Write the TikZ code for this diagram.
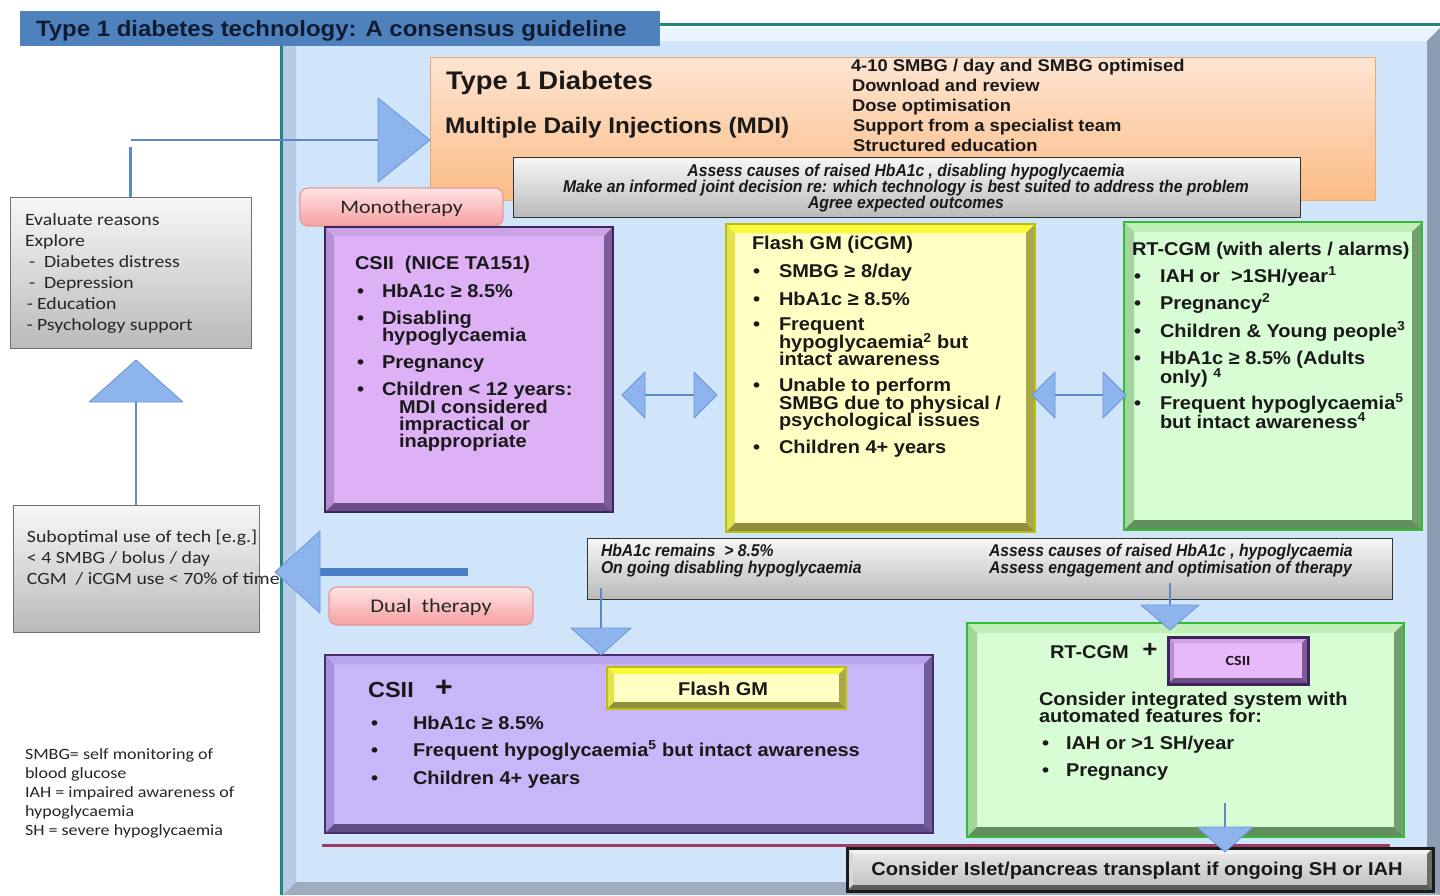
\documentclass[tikz,border=0pt]{standalone}
\usepackage{fontspec}
\setmainfont{Liberation Sans}[FakeStretch=1.08]
\newfontfamily\narrowf{Liberation Sans}[FakeStretch=0.92]
\newfontfamily\calibri{Carlito}[FakeStretch=1.15]
\newcommand{\fsz}[1]{\fontsize{#1pt}{#1pt}\selectfont}
\newcounter{tn}
\newcommand{\TX}[4][]{\stepcounter{tn}\node[txt,#1] (t\arabic{tn}) at (#2,#3) {#4};}
\newcommand{\BL}[5][]{\TX[#1]{#2}{#4}{•}\TX[#1]{#3}{#4}{#5}}
\newcommand{\BX}[6][]{\node[box,minimum width={#5-#3},minimum height={#6-#4},#1] (#2) at (#3,#4) {};}
\newcommand{\bev}[7]{%
 \fill[#3] (#1.north west) -- (#1.north east) -- ([shift={(-#2,#2)}]#1.north east) -- ([shift={(#2,#2)}]#1.north west) -- cycle;
 \fill[#4] (#1.north west) -- ([shift={(#2,#2)}]#1.north west) -- ([shift={(#2,-#2)}]#1.south west) -- (#1.south west) -- cycle;
 \fill[#5] (#1.north east) -- ([shift={(-#2,#2)}]#1.north east) -- ([shift={(-#2,-#2)}]#1.south east) -- (#1.south east) -- cycle;
 \fill[#6] (#1.south west) -- ([shift={(#2,-#2)}]#1.south west) -- ([shift={(-#2,-#2)}]#1.south east) -- (#1.south east) -- cycle;
 \draw[#7] (#1.north west) rectangle (#1.south east);}
\newcommand{\headR}[3]{\filldraw[head] (#1) -- ++(-#2,-#3) -- ++(0,2*#3) -- cycle;}
\newcommand{\headL}[3]{\filldraw[head] (#1) -- ++(#2,-#3) -- ++(0,2*#3) -- cycle;}
\newcommand{\headD}[3]{\filldraw[head] (#1) -- ++(-#3,-#2) -- ++(2*#3,0) -- cycle;}
\newcommand{\headU}[3]{\filldraw[head] (#1) -- ++(-#3,#2) -- ++(2*#3,0) -- cycle;}
\definecolor{panelC}{HTML}{D1E5FA}
\definecolor{panelT}{HTML}{E8F5FC}
\definecolor{panelL}{HTML}{B6CBE5}
\definecolor{panelR}{HTML}{8C9DB2}
\definecolor{panelB}{HTML}{9DADBF}
\definecolor{tealC}{HTML}{1E8784}
\definecolor{titleC}{HTML}{4F81BD}
\definecolor{titleT}{HTML}{0E1B33}
\definecolor{mdiT}{HTML}{FDE5D2}
\definecolor{mdiB}{HTML}{FBBC86}
\definecolor{mdiD}{HTML}{EFA86E}
\definecolor{gT}{HTML}{F7F7F7}
\definecolor{gB}{HTML}{BABABA}
\definecolor{gD}{HTML}{333333}
\definecolor{pinkT}{HTML}{FFE4E4}
\definecolor{pinkB}{HTML}{F6A0A0}
\definecolor{pinkD}{HTML}{E39A9A}
\definecolor{csiiF}{HTML}{DEB1F7}
\definecolor{csiiTop}{HTML}{CDA3E8}
\definecolor{csiiL}{HTML}{B58FD1}
\definecolor{csiiR}{HTML}{7C5B9B}
\definecolor{csiiBo}{HTML}{6B4D88}
\definecolor{csiiD}{HTML}{3E2459}
\definecolor{flashF}{HTML}{FFFFC4}
\definecolor{flashTop}{HTML}{FAFA3C}
\definecolor{flashL}{HTML}{E3E350}
\definecolor{flashR}{HTML}{A8A848}
\definecolor{flashBo}{HTML}{8F8F3C}
\definecolor{flashD}{HTML}{BDBD10}
\definecolor{rtF}{HTML}{D8FCD4}
\definecolor{rtTop}{HTML}{C0EFB9}
\definecolor{rtL}{HTML}{A2D59C}
\definecolor{rtR}{HTML}{72A06D}
\definecolor{rtBo}{HTML}{62905D}
\definecolor{rtD}{HTML}{33BB33}
\definecolor{dualF}{HTML}{C7B7F8}
\definecolor{dualTop}{HTML}{B7A5EE}
\definecolor{dualL}{HTML}{A691DE}
\definecolor{dualR}{HTML}{6F5C95}
\definecolor{dualBo}{HTML}{614D86}
\definecolor{dualD}{HTML}{4A2B6B}
\definecolor{cinF}{HTML}{E8B9FA}
\definecolor{headF}{HTML}{8EB4EE}
\definecolor{headD}{HTML}{6A95D5}
\definecolor{connC}{HTML}{5C88C7}
\definecolor{barC}{HTML}{4A7EC6}
\definecolor{maroonC}{HTML}{9C3B64}
\definecolor{trT}{HTML}{EAEAEA}
\definecolor{trB}{HTML}{BEBEBE}
\definecolor{trTop}{HTML}{F2F2F2}
\definecolor{trL}{HTML}{D6D6D6}
\definecolor{trR}{HTML}{6A6A6A}
\definecolor{trBo}{HTML}{5A5A5A}
\definecolor{trD}{HTML}{1A1A1A}
\begin{document}
\begin{tikzpicture}[x=1pt,y=-1pt,
  txt/.style={inner sep=0pt,outer sep=0pt,anchor=base west,font=\bfseries\fsz{18.5},text=black!90},
  box/.style={inner sep=0pt,outer sep=0pt,anchor=north west},
  conn/.style={draw=connC,line width=1.4pt},
  head/.style={fill=headF,draw=headD,line width=0.8pt,line join=round},
  cal/.style={font=\calibri\fsz{17.2},text=black!85},
  ital/.style={font=\narrowf\bfseries\itshape\fsz{17.1}},
  grey/.style={top color=gT,bottom color=gB,draw=gD,line width=1pt},
  pill/.style={rounded corners=8pt,top color=pinkT,bottom color=pinkB,draw=pinkD,line width=1.2pt}]

\useasboundingbox (0,0) rectangle (1440,895);
\fill[white] (0,0) rectangle (1440,895);

% panel
\BX[fill=panelC]{panel}{283}{28}{1440}{895}
\bev{panel}{13}{panelT}{panelL}{panelR}{panelB}{draw=none}
\draw[tealC,line width=3pt] (281,45) -- (281,895);

% title
\BX[fill=titleC]{title}{20}{11}{660}{46}
\draw[tealC,line width=3pt] (660,24) -- (1440,24);
\TX[font=\bfseries\fsz{22.2},text=titleT]{36}{36.5}{Type 1 diabetes technology: A consensus guideline}

% MDI
\BX[top color=mdiT,bottom color=mdiB,draw=mdiD,line width=1pt]{mdi}{430}{57}{1375}{200}
\TX[font=\bfseries\fsz{25.4}]{446}{89}{Type 1 Diabetes}
\TX[font=\bfseries\fsz{22.5}]{445}{133}{Multiple Daily Injections (MDI)}
\TX[font=\bfseries\fsz{17}]{851}{71}{4-10 SMBG / day and SMBG optimised}
\TX[font=\bfseries\fsz{17}]{852}{91}{Download and review}
\TX[font=\bfseries\fsz{17}]{852}{111}{Dose optimisation}
\TX[font=\bfseries\fsz{17}]{853}{131}{Support from a specialist team}
\TX[font=\bfseries\fsz{17}]{853}{151}{Structured education}

% assess box
\BX[grey]{assess}{513}{157}{1300}{217}
\TX[ital,anchor=base]{906}{176}{Assess causes of raised HbA1c , disabling hypoglycaemia}
\TX[ital,anchor=base]{906}{192}{Make an informed joint decision re: which technology is best suited to address the problem}
\TX[ital,anchor=base]{906}{208}{Agree expected outcomes}

% monotherapy
\BX[pill]{mono}{300}{188}{503}{226}
\TX[font=\calibri\fsz{19.1},text=black!85,anchor=base]{401.5}{213}{Monotherapy}

% evaluate
\BX[grey,draw=gD!70]{eval}{10}{197}{251}{348}
\TX[cal]{25}{225}{Evaluate reasons}
\TX[cal]{25}{246.5}{Explore}
\TX[cal]{29}{267.5}{-\kern9pt Diabetes distress}
\TX[cal]{29}{288}{-\kern9pt Depression}
\TX[cal]{27}{309}{-\kern4pt Education}
\TX[cal]{27}{330}{-\kern4pt Psychology support}

% connector evaluate -> MDI
\coordinate (mdiin) at (378,140);
\draw[conn,line width=3pt] (eval.north) -- ++(0,-50);
\draw[conn] (eval.north |- mdiin) -- (mdiin);
\headR{mdi.west |- mdiin}{52}{42}

% suboptimal
\BX[grey,draw=gD!70]{sub}{13}{505}{259}{632}
\coordinate (uptip) at (135,360);
\draw[conn,line width=1.2pt] (sub.north) -- (sub.north |- uptip);
\headU{sub.north |- uptip}{42}{47}

% big left arrow
\coordinate (lbar) at (468,572);
\coordinate (ltip) at (275,572);
\draw[barC,line width=8pt] (lbar) -- ([shift={(44,0)}]ltip);
\headL{ltip}{45}{41}
\TX[cal]{27}{542}{Suboptimal use of tech [e.g.]}
\TX[cal]{27}{563}{< 4 SMBG / bolus / day}
\TX[cal]{27}{584}{CGM\ \ / iCGM use < 70\% of time}

% dual therapy pill
\BX[pill]{dual}{329}{587}{533}{625}
\TX[font=\calibri\fsz{19.4},text=black!85,anchor=base]{431}{612}{Dual\ \ therapy}

% CSII
\BX[fill=csiiF]{csii}{325}{227}{613}{512}
\bev{csii}{9}{csiiTop}{csiiL}{csiiR}{csiiBo}{draw=csiiD,line width=2.5pt}
\TX{355}{269}{CSII\ \ (NICE TA151)}
\BL{357}{382}{297}{HbA1c ≥ 8.5\%}
\BL{357}{382}{324}{Disabling}
\TX{382}{341.5}{hypoglycaemia}
\BL{357}{382}{368}{Pregnancy}
\BL{357}{382}{395.5}{Children < 12 years:}
\TX{399}{413}{MDI considered}
\TX{399}{430}{impractical or}
\TX{399}{447}{inappropriate}

% Flash
\BX[fill=flashF]{flash}{726}{224}{1035}{532}
\bev{flash}{9}{flashTop}{flashL}{flashR}{flashBo}{draw=flashD,line width=2pt}
\TX{752}{249}{Flash GM (iCGM)}
\BL{753}{779}{277}{SMBG ≥ 8/day}
\BL{753}{779}{305}{HbA1c ≥ 8.5\%}
\BL{753}{779}{330}{Frequent}
\TX{779}{348.5}{hypoglycaemia\textsuperscript{2} but}
\TX{779}{365}{intact awareness}
\BL{753}{779}{391.5}{Unable to perform}
\TX{779}{409}{SMBG due to physical /}
\TX{779}{426}{psychological issues}
\BL{753}{779}{453}{Children 4+ years}

% RT-CGM
\BX[fill=rtF]{rt}{1124}{222}{1422}{530}
\bev{rt}{10}{rtTop}{rtL}{rtR}{rtBo}{draw=rtD,line width=2.5pt}
\TX{1132}{255}{RT-CGM (with alerts / alarms)}
\BL{1134}{1160}{282}{IAH or\ \ >1SH/year\textsuperscript{1}}
\BL{1134}{1160}{309}{Pregnancy\textsuperscript{2}}
\BL{1134}{1160}{337}{Children \& Young people\textsuperscript{3}}
\BL{1134}{1160}{364}{HbA1c ≥ 8.5\% (Adults}
\TX{1160}{383.5}{only) \textsuperscript{4}}
\BL{1134}{1160}{409}{Frequent hypoglycaemia\textsuperscript{5}}
\TX{1160}{428}{but intact awareness\textsuperscript{4}}

% double arrows
\coordinate (a1l) at (622,395);
\coordinate (a1r) at (717,395);
\draw[conn] (a1l) -- (a1r);
\headL{a1l}{23}{23}
\headR{a1r}{23}{23}
\coordinate (a2l) at (1032,395);
\coordinate (a2r) at (1126,395);
\draw[conn] (a2l) -- (a2r);
\headL{a2l}{23}{23}
\headR{a2r}{23}{23}

% condition box
\BX[grey]{cond}{587}{538}{1392}{599}
\TX[ital]{601}{556}{HbA1c remains\ \ > 8.5\%}
\TX[ital]{601}{573}{On going disabling hypoglycaemia}
\TX[ital]{989}{556}{Assess causes of raised HbA1c , hypoglycaemia}
\TX[ital]{989}{573}{Assess engagement and optimisation of therapy}

% dual therapy box
\BX[fill=dualF]{dbox}{325}{655}{933}{833}
\bev{dbox}{9}{dualTop}{dualL}{dualR}{dualBo}{draw=dualD,line width=2.5pt}
\TX[font=\bfseries\fsz{21.8}]{368}{697}{CSII}
\node[txt,anchor=center,font=\bfseries\fsz{28}] (plus1) at (444,688) {+};
\BX[fill=flashF]{fin}{607}{667}{846}{709}
\bev{fin}{7}{flashTop}{flashL}{flashR}{flashBo}{draw=flashD,line width=1.5pt}
\TX[anchor=base]{723}{695}{Flash GM}
\BL{371}{413}{729}{HbA1c ≥ 8.5\%}
\BL{371}{413}{756}{Frequent hypoglycaemia\textsuperscript{5} but intact awareness}
\BL{371}{413}{784}{Children 4+ years}

\coordinate (d1) at (601,655);
\draw[conn,line width=1.2pt] ([shift={(14,-11)}]cond.south west) -- ([shift={(0,-27)}]d1);
\headD{d1}{27}{30}

% RT-CGM + CSII box
\BX[fill=rtF]{g2}{967}{623}{1404}{837}
\bev{g2}{10}{rtTop}{rtL}{rtR}{rtBo}{draw=rtD,line width=2.5pt}
\TX{1050}{658}{RT-CGM}
\node[txt,anchor=center,font=\bfseries\fsz{24}] (plus2) at (1150,650) {+};
\BX[fill=cinF]{cin}{1168}{637}{1308}{684}
\bev{cin}{6}{csiiTop}{csiiL}{csiiR}{csiiBo}{draw=csiiD,line width=3pt}
\TX[font=\calibri\bfseries\fsz{14},anchor=base]{1238}{665}{CSII}
\TX{1039}{705}{Consider integrated system with}
\TX{1039}{722.5}{automated features for:}
\BL{1042}{1066}{749}{IAH or >1 SH/year}
\BL{1042}{1066}{776}{Pregnancy}

\coordinate (d2) at (1170,630);
\draw[conn,line width=1.2pt] ([shift={(-222,-16)}]cond.south east) -- ([shift={(0,-25)}]d2);
\headD{d2}{25}{29}

% maroon rule
\draw[maroonC,line width=3pt] (322,845) -- (1390,845);

% transplant
\BX[top color=trT,bottom color=trB]{trans}{847}{848}{1433}{891}
\bev{trans}{6}{trTop}{trL}{trR}{trBo}{draw=trD,line width=3pt}
\TX[font=\bfseries\fsz{18.6},anchor=base]{1137}{875}{Consider Islet/pancreas transplant if ongoing SH or IAH}

\coordinate (d3) at (1225,852);
\draw[conn,line width=1.2pt] ([shift={(258,-34)}]g2.south west) -- ([shift={(0,-25)}]d3);
\headD{d3}{25}{28}

% legend
\TX[font=\calibri\fsz{15.7},text=black!85]{25}{759}{SMBG= self monitoring of}
\TX[font=\calibri\fsz{15.7},text=black!85]{25}{778}{blood glucose}
\TX[font=\calibri\fsz{15.7},text=black!85]{25}{797}{IAH = impaired awareness of}
\TX[font=\calibri\fsz{15.7},text=black!85]{25}{816}{hypoglycaemia}
\TX[font=\calibri\fsz{15.7},text=black!85]{25}{835}{SH = severe hypoglycaemia}
\end{tikzpicture}
\end{document}
